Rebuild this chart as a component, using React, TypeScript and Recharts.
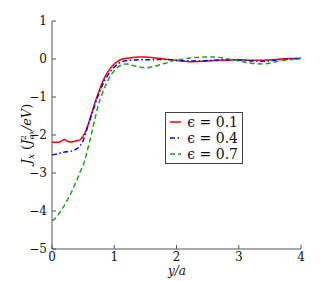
import { LineChart, Line, XAxis, YAxis, Legend } from "recharts";

// y/a positions shared by every curve
const xs = [
  0, 0.05, 0.1, 0.15, 0.2, 0.25, 0.3, 0.35, 0.4, 0.45, 0.5, 0.55, 0.6, 0.65,
  0.7, 0.75, 0.8, 0.85, 0.9, 0.95, 1.0, 1.1, 1.2, 1.3, 1.4, 1.5, 1.6, 1.7,
  1.8, 1.9, 2.0, 2.2, 2.4, 2.6, 2.8, 3.0, 3.2, 3.4, 3.6, 3.8, 4.0,
];

const eps01 = [
  -2.19, -2.19, -2.19, -2.16, -2.12, -2.16, -2.19, -2.17, -2.15, -2.13, -2.03,
  -1.87, -1.63, -1.36, -1.1, -0.87, -0.65, -0.47, -0.33, -0.22, -0.13, -0.02,
  0.02, 0.04, 0.05, 0.05, 0.04, 0.02, 0.0, -0.02, -0.04, -0.07, -0.06, -0.04,
  -0.03, -0.02, -0.03, -0.03, -0.01, 0.01, 0.02,
];

const eps04 = [
  -2.52, -2.51, -2.49, -2.47, -2.45, -2.44, -2.43, -2.4, -2.36, -2.29, -2.15,
  -1.9, -1.64, -1.4, -1.15, -0.92, -0.72, -0.55, -0.42, -0.3, -0.21, -0.09,
  -0.04, -0.03, -0.02, -0.02, -0.02, -0.01, -0.01, -0.02, -0.03, -0.05, -0.05,
  -0.03, -0.02, -0.03, -0.05, -0.06, -0.03, 0.0, 0.01,
];

const eps07 = [
  -4.25, -4.2, -4.1, -3.98, -3.85, -3.7, -3.55, -3.37, -3.18, -2.98, -2.8,
  -2.52, -2.2, -1.85, -1.5, -1.18, -0.95, -0.74, -0.56, -0.42, -0.31, -0.17,
  -0.13, -0.17, -0.21, -0.23, -0.21, -0.17, -0.12, -0.07, -0.03, 0.02, 0.05,
  0.05, 0.01, -0.05, -0.11, -0.13, -0.07, -0.02, 0.01,
];

const xTicks = [0, 1, 2, 3, 4];
const yTicks = [-5, -4, -3, -2, -1, 0, 1];

const series = [
  { key: "e1", label: "ϵ = 0.1", color: "#ff0000", dash: undefined },
  { key: "e4", label: "ϵ = 0.4", color: "#0000ff", dash: "5 2.5 1.5 2.5" },
  { key: "e7", label: "ϵ = 0.7", color: "#22a022", dash: "5 3" },
];

const data = xs.map((x, i) => ({ x, e1: eps01[i], e4: eps04[i], e7: eps07[i] }));

const serif = "DejaVu Serif";
const axisColor = "#555";

function fmt(v: number) {
  return v < 0 ? "\u2212" + Math.abs(v) : String(v);
}

function LegendBox() {
  return (
    <div
      style={{
        border: "1px solid #444",
        background: "#fff",
        padding: "1px 4px",
        fontFamily: serif,
        fontSize: 14,
        lineHeight: "16px",
        color: "#111",
      }}
    >
      {series.map((s) => (
        <div key={s.key} style={{ display: "flex", alignItems: "center" }}>
          <svg width={20} height={16} style={{ marginRight: 6 }}>
            <line
              x1={0}
              y1={8}
              x2={20}
              y2={8}
              stroke={s.color}
              strokeWidth={1.5}
              strokeDasharray={s.dash}
            />
          </svg>
          <span style={{ whiteSpace: "pre" }}>{s.label}</span>
        </div>
      ))}
    </div>
  );
}

const noLabel = () => "";

export default function App() {
  return (
    <div style={{ position: "absolute", left: 0, top: 0, background: "#fff" }}>
      <LineChart
        width={332}
        height={281}
        data={data}
        margin={{ top: 21, right: 31, bottom: 0, left: 0 }}
      >
        <XAxis
          dataKey="x"
          type="number"
          domain={[0, 4]}
          ticks={xTicks}
          height={32}
          stroke={axisColor}
          tickSize={-4}
          tickMargin={7}
          tickFormatter={fmt}
          tick={{ fill: "#111", fontFamily: serif, fontSize: 12 }}
          label={{
            content: () => (
              <text
                x={177}
                y={275}
                textAnchor="middle"
                fontFamily={serif}
                fontStyle="italic"
                fontSize={12}
                fill="#111"
              >
                y/a
              </text>
            ),
          }}
        />
        <XAxis
          xAxisId="top"
          orientation="top"
          type="number"
          domain={[0, 4]}
          ticks={xTicks}
          height={0}
          stroke={axisColor}
          tickSize={-4}
          tickFormatter={noLabel}
        />
        <YAxis
          type="number"
          domain={[-5, 1]}
          ticks={yTicks}
          width={52}
          stroke={axisColor}
          tickSize={-4}
          tickMargin={9}
          tickFormatter={fmt}
          tick={{ fill: "#111", fontFamily: serif, fontSize: 12 }}
          label={{
            content: () => (
              <text
                x={31}
                y={134}
                transform="rotate(-90, 31, 134)"
                textAnchor="middle"
                fontFamily={serif}
                fontStyle="italic"
                fontSize={13}
                fill="#111"
              >
                <tspan>J</tspan>
                <tspan fontSize={9} dy={3}>x</tspan>
                <tspan dy={-3} fontStyle="normal"> (</tspan>
                <tspan>J</tspan>
                <tspan fontSize={8} dy={3}>ex</tspan>
                <tspan fontSize={8} dx={-10} dy={-8} fontStyle="normal">2</tspan>
                <tspan dx={5} dy={5}>/eV</tspan>
                <tspan fontStyle="normal">)</tspan>
              </text>
            ),
          }}
        />
        <YAxis
          yAxisId="right"
          orientation="right"
          type="number"
          domain={[-5, 1]}
          ticks={yTicks}
          width={0}
          stroke={axisColor}
          tickSize={-4}
          tickFormatter={noLabel}
        />
        <Legend
          layout="vertical"
          align="center"
          verticalAlign="middle"
          content={() => <LegendBox />}
          wrapperStyle={{ left: 165, top: 112, width: 78, height: "auto" }}
        />
        {series.map((s) => (
          <Line
            key={s.key}
            dataKey={s.key}
            type="monotone"
            stroke={s.color}
            strokeWidth={1.5}
            strokeDasharray={s.dash}
            dot={false}
            isAnimationActive={false}
          />
        ))}
      </LineChart>
    </div>
  );
}
